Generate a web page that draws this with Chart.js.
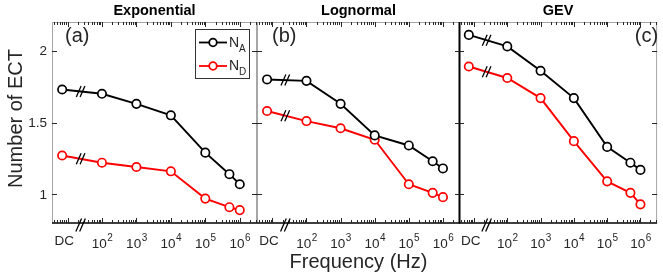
<!DOCTYPE html>
<html>
<head>
<meta charset="utf-8">
<script src="https://cdn.jsdelivr.net/npm/chart.js@4"></script>
<style>
  body { margin: 0; background: #fff; }
  #wrap { position: relative; width: 663px; height: 277px; }
  canvas { position: absolute; left: 0; top: 0; }
</style>
</head>
<body>
<div id="wrap">
  <canvas id="exp" width="663" height="277"></canvas>
  <canvas id="logn" width="663" height="277"></canvas>
  <canvas id="gev" width="663" height="277"></canvas>
</div>
<script>
// frequencies (DC is drawn left of the break, at 7 Hz on the log axis)
const freqs = [7, 1e2, 1e3, 1e4, 1e5, 5e5, 1e6];

const expNA = [1.73, 1.70, 1.63, 1.55, 1.29, 1.14, 1.07];
const expND = [1.27, 1.22, 1.19, 1.16, 0.97, 0.91, 0.89];
const logNA = [1.80, 1.79, 1.63, 1.41, 1.34, 1.23, 1.18];
const logND = [1.58, 1.51, 1.46, 1.38, 1.07, 1.01, 0.98];
const gevNA = [2.11, 2.03, 1.86, 1.67, 1.33, 1.22, 1.17];
const gevND = [1.89, 1.81, 1.67, 1.37, 1.09, 1.01, 0.93];

const seriesNames = ["N", "N"];
const seriesSubs = ["A", "D"];
const seriesColors = ["#000000", "#ff0000"];

const xTickVals = [1e2, 1e3, 1e4, 1e5, 1e6];
const xTickExps = ["2", "3", "4", "5", "6"];
const dcLabel = "DC";
const dcLabelAt = 8;
const breakAt = 24;
const yTickVals = [1, 1.5, 2];
const yTickLabels = ["1", "1.5", "2"];

const FONT = '"Liberation Sans", Arial, sans-serif';
const TXT = "#262626";
const GRAY = "#a6a6a6";

function line(ctx, x1, y1, x2, y2) {
  ctx.beginPath();
  ctx.moveTo(x1, y1);
  ctx.lineTo(x2, y2);
  ctx.stroke();
}

function breakMark(ctx, cx, cy, h) {
  ctx.save();
  ctx.strokeStyle = "#000";
  ctx.lineWidth = 1.3;
  for (const dx of [-1.9, 1.9]) {
    line(ctx, cx + dx - h * 0.22, cy + h / 2, cx + dx + h * 0.22, cy - h / 2);
  }
  ctx.restore();
}

const frame = {
  id: "frame",
  afterDatasetsDraw(chart, args, o) {
    const { ctx, chartArea: a, scales: { x, y } } = chart;
    ctx.save();

    // break marks on the lines between DC and 10^2
    const bx = x.getPixelForValue(breakAt);
    chart.data.datasets.forEach((ds) => {
      const p0 = { x: x.getPixelForValue(ds.data[0].x), y: y.getPixelForValue(ds.data[0].y) };
      const p1 = { x: x.getPixelForValue(ds.data[1].x), y: y.getPixelForValue(ds.data[1].y) };
      const t = (bx - p0.x) / (p1.x - p0.x);
      breakMark(ctx, bx, p0.y + t * (p1.y - p0.y), 11);
    });

    // box
    ctx.lineWidth = 1;
    ctx.strokeStyle = GRAY;
    line(ctx, a.left, a.top + 0.5, a.right, a.top + 0.5);
    line(ctx, a.right - 0.5, a.top, a.right - 0.5, a.bottom);
    ctx.strokeStyle = o.leftColor;
    ctx.lineWidth = o.leftWidth;
    line(ctx, a.left + 0.5, a.top, a.left + 0.5, a.bottom);
    ctx.strokeStyle = "#000";
    ctx.lineWidth = 1.5;
    line(ctx, a.left, a.bottom, a.right, a.bottom);

    // x ticks (log, inward, top and bottom)
    ctx.strokeStyle = TXT;
    ctx.lineWidth = 1;
    for (let n = 0; n <= 6; n++) {
      for (let k = 1; k <= 9; k++) {
        const v = k * Math.pow(10, n);
        if (v < x.min || v > x.max) continue;
        const px = Math.round(x.getPixelForValue(v)) + 0.5;
        const len = k === 1 ? 5 : 3;
        line(ctx, px, a.bottom, px, a.bottom - len);
        line(ctx, px, a.top, px, a.top + len);
      }
    }
    // y ticks inward both sides
    yTickVals.forEach((v) => {
      const py = Math.round(y.getPixelForValue(v)) + 0.5;
      line(ctx, a.left, py, a.left + 5, py);
      line(ctx, a.right, py, a.right - 5, py);
    });

    // axis break on x axis
    breakMark(ctx, x.getPixelForValue(breakAt), a.bottom + 2, 13);

    // x tick labels
    ctx.fillStyle = TXT;
    ctx.textBaseline = "alphabetic";
    ctx.textAlign = "left";
    xTickVals.forEach((v, i) => {
      const px = x.getPixelForValue(v);
      ctx.font = "13.5px " + FONT;
      const w1 = ctx.measureText("10").width;
      ctx.font = "10px " + FONT;
      const w2 = ctx.measureText(xTickExps[i]).width;
      const sx = px - (w1 + w2) / 2;
      ctx.font = "13.5px " + FONT;
      ctx.fillText("10", sx, 248);
      ctx.font = "10px " + FONT;
      ctx.fillText(xTickExps[i], sx + w1 + 0.5, 241);
    });
    ctx.font = "13.5px " + FONT;
    ctx.textAlign = "center";
    ctx.fillText(dcLabel, x.getPixelForValue(dcLabelAt), 244.5);

    // y tick labels
    if (o.yLabels) {
      ctx.font = "13.5px " + FONT;
      ctx.textAlign = "right";
      ctx.textBaseline = "middle";
      yTickVals.forEach((v, i) => {
        ctx.fillText(yTickLabels[i], a.left - 5, y.getPixelForValue(v) + 0.5);
      });
      ctx.save();
      ctx.translate(22, (a.top + a.bottom) / 2 - 4);
      ctx.rotate(-Math.PI / 2);
      ctx.font = "20px " + FONT;
      ctx.textAlign = "center";
      ctx.textBaseline = "alphabetic";
      ctx.fillText(o.yTitle, 0, 0);
      ctx.restore();
    }

    if (o.xTitle) {
      ctx.font = "20px " + FONT;
      ctx.textAlign = "center";
      ctx.textBaseline = "alphabetic";
      ctx.fillText(o.xTitle, (a.left + a.right) / 2, 268);
    }

    // panel title
    ctx.fillStyle = "#000";
    ctx.font = "bold 14.5px " + FONT;
    ctx.textAlign = "center";
    ctx.textBaseline = "alphabetic";
    ctx.fillText(o.title, (a.left + a.right) / 2, 15);

    // panel letter
    ctx.fillStyle = TXT;
    ctx.font = "20px " + FONT;
    ctx.textBaseline = "middle";
    ctx.textAlign = o.letterRight ? "right" : "left";
    ctx.fillText(o.letter, o.letterRight ? a.right + 1 : a.left + o.letterDx, a.top + 14);

    // legend
    if (o.legend) {
      const lx = a.right - 62, ly = a.top + 7;
      ctx.fillStyle = "#fff";
      ctx.fillRect(lx, ly, 54, 49);
      ctx.strokeStyle = "#333";
      ctx.lineWidth = 1;
      ctx.strokeRect(lx + 0.5, ly + 0.5, 54, 49);
      chart.data.datasets.forEach((ds, i) => {
        const ey = ly + 13.5 + i * 23.5;
        ctx.strokeStyle = ds.borderColor;
        ctx.lineWidth = 1.8;
        line(ctx, lx + 4, ey, lx + 32, ey);
        ctx.beginPath();
        ctx.arc(lx + 18, ey, 3.8, 0, Math.PI * 2);
        ctx.fillStyle = "#fff";
        ctx.fill();
        ctx.stroke();
        ctx.fillStyle = TXT;
        ctx.textAlign = "left";
        ctx.textBaseline = "alphabetic";
        ctx.font = "14px " + FONT;
        ctx.fillText(seriesNames[i], lx + 34, ey + 4);
        const w = ctx.measureText(seriesNames[i]).width;
        ctx.font = "10px " + FONT;
        ctx.fillText(seriesSubs[i], lx + 34 + w, ey + 9);
      });
    }
    ctx.restore();
  }
};

function makePanel(id, na, nd, left, right, opts) {
  return new Chart(document.getElementById(id), {
    type: "line",
    data: {
      datasets: [na, nd].map((vals, i) => ({
        label: seriesNames[i] + seriesSubs[i],
        data: freqs.map((f, j) => ({ x: f, y: vals[j] })),
        borderColor: seriesColors[i],
        pointBorderColor: seriesColors[i],
        pointBackgroundColor: "#fff",
        borderWidth: 1.9,
        pointRadius: 4.2,
        pointBorderWidth: 1.7,
        tension: 0,
      })),
    },
    options: {
      responsive: false,
      animation: false,
      layout: { padding: { left: left, right: 663 - right, top: 22, bottom: 277 - 223 } },
      scales: {
        x: { type: "logarithmic", min: Math.pow(10, 0.55), max: Math.pow(10, 6.5), display: false },
        y: { type: "linear", min: 0.8, max: 2.2, display: false },
      },
      plugins: {
        legend: { display: false },
        tooltip: { enabled: false },
        frame: opts,
      },
    },
    plugins: [frame],
  });
}

makePanel("exp", expNA, expND, 52, 257, {
  title: "Exponential", letter: "(a)", letterDx: 13, leftColor: GRAY, leftWidth: 1,
  yLabels: true, yTitle: "Number of ECT", legend: true,
});
makePanel("logn", logNA, logND, 257, 460, {
  title: "Lognormal", letter: "(b)", letterDx: 15, leftColor: GRAY, leftWidth: 1,
  xTitle: "Frequency (Hz)",
});
makePanel("gev", gevNA, gevND, 459, 662, {
  title: "GEV", letter: "(c)", letterRight: true, leftColor: "#000", leftWidth: 2,
});
</script>
</body>
</html>
